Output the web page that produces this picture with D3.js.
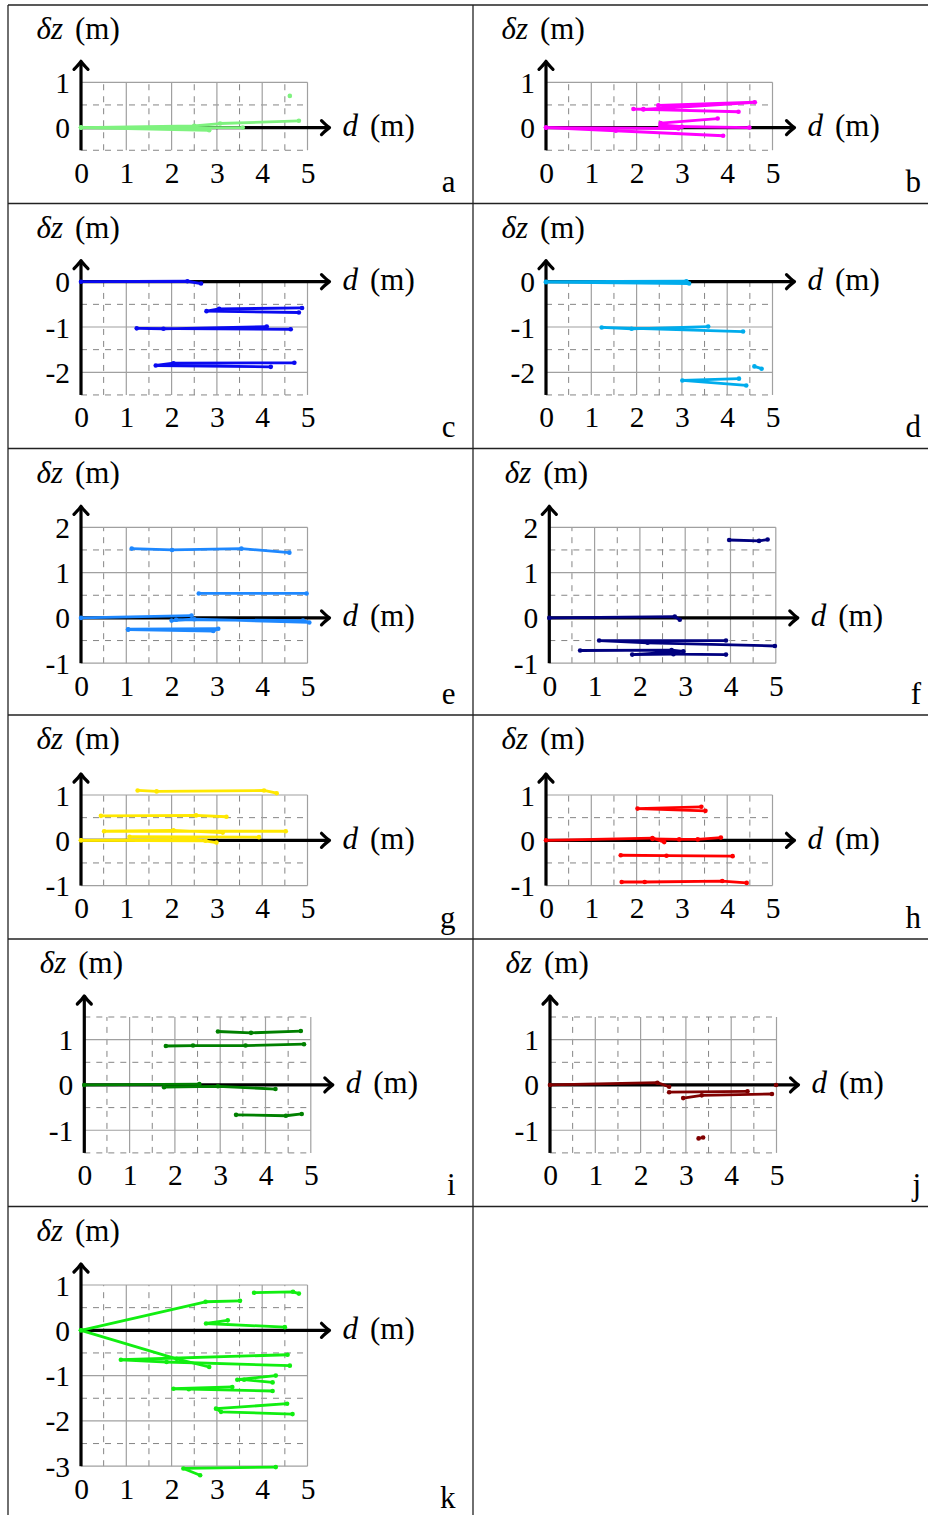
<!DOCTYPE html>
<html><head><meta charset="utf-8">
<script src="https://cdn.jsdelivr.net/npm/d3@7"></script>
<style>
body{margin:0;background:#fff}
svg{display:block}
</style>
</head><body>
<svg id="chart" width="928" height="1515"></svg>
<script>
// ---------- data ----------
const panelLetters = ["a","b","c","d","e","f","g","h","i","j","k"];
const xTicks = [0,1,2,3,4,5];
const xDomain = [0,5];
const yDomains = [[-0.5,1],[-0.5,1],[-2.5,0],[-2.5,0],[-1,2],[-1,2],[-1,1],[-1,1],[-1.5,1.5],[-1.5,1.5],[-3,1]];
const yTickLabels = [[0,1],[0,1],[-2,-1,0],[-2,-1,0],[-1,0,1,2],[-1,0,1,2],[-1,0,1],[-1,0,1],[-1,0,1],[-1,0,1],[-3,-2,-1,0,1]];
const xAxisLabel = "d";
const yAxisLabel = "δz";
const unitLabel = "(m)";

// each panel: list of polylines, each a list of [d, dz] points
const tracksA = [
  [[0,0],[2.83,-0.06]],
  [[0,0],[3.57,0.0]],
  [[0,0],[2.5,0.04],[3.07,0.09],[4.81,0.15]],
  [[4.61,0.70]]
];
const tracksB = [
  [[0,0],[2.92,-0.02]],
  [[0,0],[1.54,-0.07],[3.91,-0.18]],
  [[2.53,0.03],[4.49,0.0]],
  [[2.53,0.10],[3.79,0.20]],
  [[2.53,0.06],[3.0,0.02]],
  [[4.25,0.35],[1.93,0.41],[2.15,0.41]],
  [[2.15,0.40],[4.61,0.56],[2.48,0.49]]
];
const tracksC = [
  [[0,0],[2.35,0.01],[2.65,-0.04]],
  [[4.81,-0.68],[2.77,-0.65],[3.05,-0.60],[4.88,-0.58]],
  [[4.63,-1.05],[1.23,-1.03],[1.82,-1.04],[4.10,-0.99]],
  [[4.19,-1.88],[1.65,-1.85],[2.04,-1.80],[4.71,-1.79]]
];
const tracksD = [
  [[0,0],[3.10,0.01],[3.16,-0.04],[0,-0.01]],
  [[4.35,-1.10],[1.23,-1.01],[1.89,-1.04],[3.58,-0.99]],
  [[4.60,-1.87],[4.76,-1.92]],
  [[4.26,-2.14],[3.01,-2.18],[4.42,-2.29]]
];
const tracksE = [
  [[0,0],[2.44,0.05]],
  [[2.0,-0.06],[2.5,-0.03],[5.04,-0.10],[4.9,-0.06],[2.1,-0.04]],
  [[2.60,0.54],[4.98,0.54]],
  [[1.12,1.53],[2.01,1.50],[3.54,1.53],[4.60,1.44]],
  [[1.04,-0.26],[2.92,-0.29],[3.03,-0.24],[1.04,-0.25]]
];
const tracksF = [
  [[0,0],[2.77,0.03],[2.88,-0.04]],
  [[3.97,1.72],[4.63,1.70],[4.82,1.73]],
  [[3.90,-0.50],[1.10,-0.50],[2.17,-0.55],[4.98,-0.62]],
  [[0.68,-0.72],[2.70,-0.71],[2.96,-0.74],[1.83,-0.81],[2.74,-0.80],[3.90,-0.81]]
];
const tracksG = [
  [[0,0],[2.5,0.02],[2.99,-0.05]],
  [[0,0],[2.75,-0.01]],
  [[1.07,0.08],[3.93,0.07]],
  [[4.52,0.20],[0.51,0.20],[2.04,0.22],[3.13,0.17]],
  [[0.44,0.54],[2.54,0.55],[3.21,0.52]],
  [[1.25,1.10],[1.67,1.08],[4.04,1.10],[4.32,1.04]]
];
const tracksH = [
  [[0,0],[2.35,0.05],[2.61,-0.04]],
  [[2.35,0.03],[2.94,0.02],[3.35,0.02],[3.86,0.06]],
  [[1.65,-0.33],[2.66,-0.34],[4.12,-0.35]],
  [[1.67,-0.92],[2.18,-0.92],[3.89,-0.90],[4.43,-0.94]],
  [[3.52,0.65],[2.02,0.70],[3.43,0.74]]
];
const tracksI = [
  [[0,0],[2.54,0.02]],
  [[1.76,-0.05],[2.95,-0.03],[4.22,-0.09]],
  [[2.95,1.18],[3.68,1.15],[4.78,1.19]],
  [[1.80,0.86],[2.40,0.87],[3.56,0.87],[4.85,0.90]],
  [[3.35,-0.66],[4.45,-0.68],[4.80,-0.64]]
];
const tracksJ = [
  [[0,0],[2.37,0.05],[2.63,-0.04]],
  [[4.99,0.0]],
  [[2.63,-0.16],[4.36,-0.14]],
  [[2.94,-0.29],[3.35,-0.23],[4.90,-0.20]],
  [[3.28,-1.18],[3.38,-1.16]]
];
const tracksK = [
  [[0,0],[2.75,0.63],[3.51,0.65]],
  [[3.82,0.83],[4.68,0.85],[4.81,0.81]],
  [[3.24,0.22],[2.76,0.15],[4.50,0.07]],
  [[0,0],[2.11,-0.63],[2.83,-0.81]],
  [[4.56,-0.54],[0.88,-0.65],[1.89,-0.70],[4.61,-0.78]],
  [[4.30,-1.0],[3.45,-1.09],[3.60,-1.09],[4.23,-1.15]],
  [[3.34,-1.25],[2.04,-1.29],[2.38,-1.30],[4.23,-1.34]],
  [[4.55,-1.62],[2.98,-1.73],[3.09,-1.80],[4.67,-1.85]],
  [[4.30,-3.02],[2.26,-3.05],[2.63,-3.20]]
];
const panelTracks = [tracksA,tracksB,tracksC,tracksD,tracksE,tracksF,tracksG,tracksH,tracksI,tracksJ,tracksK];

// ---------- styles / layout ----------
const panelColors = ["#7ff27f","#ff00ff","#0a0af0","#00acec","#1e88ff","#00007f","#ffe800","#ff0000","#008000","#800000","#11ee11"];
const rowTops = [5,203.5,448.5,715,939,1206.5,1519.5];
const gridTopOff = [77.3,78.2,78.8,80,78,78.5];
const colLeft = [8,473];
const colRight = [473,938];
const originDx = [73,73,73,73,73,76.3,73,73,76.3,77,73];
const PX = 45.3;
const FS = 29.5;
const FS_TITLE = 31;
const FONT = '"Liberation Serif"';

const svg = d3.select("#chart");

// table borders
const border = svg.append("g").attr("stroke","#222").attr("stroke-width",1.3).attr("fill","none");
for (let r=0;r<6;r++) border.append("line").attr("x1",8).attr("x2",928).attr("y1",rowTops[r]).attr("y2",rowTops[r]);
border.append("line").attr("x1",8).attr("x2",8).attr("y1",rowTops[0]).attr("y2",1515);
border.append("line").attr("x1",473).attr("x2",473).attr("y1",rowTops[0]).attr("y2",1515);

const fmt = d => d < 0 ? "-" + (-d) : String(d);
const styleText = (sel, fs) => sel.style("font-family",FONT).style("font-size",(fs||FS)+"px").style("fill","#000");

panelLetters.forEach((letter,i)=>{
  const row = Math.floor(i/2), col = i%2;
  const [yMin,yMax] = yDomains[i];
  const ox = colLeft[col] + originDx[i];
  const gTop = rowTops[row] + gridTopOff[row];
  const gBot = gTop + (yMax-yMin)*PX;
  const x = d3.scaleLinear().domain(xDomain).range([ox, ox+5*PX]);
  const y = d3.scaleLinear().domain([yMin,yMax]).range([gBot, gTop]);
  const g = svg.append("g");
  const color = panelColors[i];

  // grid: dashed at halves, solid at integers
  const halfX = d3.range(0, 5.001, 0.5);
  const halfY = d3.range(Math.ceil(yMin*2)/2, yMax+0.001, 0.5);
  const grid = g.append("g");
  const isInt = v => Math.abs(v-Math.round(v))<0.01;
  halfX.filter(v=>!isInt(v)).forEach(v=>{
    grid.append("line").attr("x1",x(v)).attr("x2",x(v)).attr("y1",gBot).attr("y2",gTop)
      .attr("stroke","#858585").attr("stroke-width",1).attr("stroke-dasharray","6,6");
  });
  halfY.filter(v=>!isInt(v)).forEach(v=>{
    grid.append("line").attr("x1",x(0)).attr("x2",x(5)).attr("y1",y(v)).attr("y2",y(v))
      .attr("stroke","#858585").attr("stroke-width",1).attr("stroke-dasharray","6,6");
  });
  halfX.filter(isInt).forEach(v=>{
    grid.append("line").attr("x1",x(v)).attr("x2",x(v)).attr("y1",gBot).attr("y2",gTop)
      .attr("stroke","#a0a0a0").attr("stroke-width",1.2);
  });
  halfY.filter(isInt).forEach(v=>{
    grid.append("line").attr("x1",x(0)).attr("x2",x(5)).attr("y1",y(v)).attr("y2",y(v))
      .attr("stroke","#a0a0a0").attr("stroke-width",1.2);
  });

  // axes (black arrows)
  const ax = g.append("g").attr("stroke","#000").attr("stroke-width",3.2).attr("fill","none")
    .attr("stroke-linecap","butt").attr("stroke-linejoin","round");
  const xTip = x(5)+22, yTip = gTop-21;
  ax.append("line").attr("x1",x(0)-1.6).attr("x2",xTip-1).attr("y1",y(0)).attr("y2",y(0));
  ax.append("line").attr("x1",x(0)).attr("x2",x(0)).attr("y1",gBot).attr("y2",yTip+1);
  ax.append("path").attr("stroke-linecap","round")
    .attr("d",`M${xTip-8},${y(0)-7} Q${xTip-3},${y(0)-2} ${xTip},${y(0)} Q${xTip-3},${y(0)+2} ${xTip-8},${y(0)+7}`);
  ax.append("path").attr("stroke-linecap","round")
    .attr("d",`M${x(0)-7},${yTip+8} Q${x(0)-2},${yTip+3} ${x(0)},${yTip} Q${x(0)+2},${yTip+3} ${x(0)+7},${yTip+8}`);

  // tick labels via d3 axes
  const xa = g.append("g").attr("transform",`translate(0,${gBot})`)
    .call(d3.axisBottom(x).tickValues(xTicks).tickSize(0).tickPadding(11.5).tickFormat(fmt));
  xa.select(".domain").remove();
  styleText(xa.selectAll("text"));
  const ya = g.append("g").attr("transform",`translate(${x(0)},0)`)
    .call(d3.axisLeft(y).tickValues(yTickLabels[i]).tickSize(0).tickPadding(11).tickFormat(fmt));
  ya.select(".domain").remove();
  styleText(ya.selectAll("text")).attr("dy","0.34em");

  // axis titles
  const yt = styleText(g.append("text").attr("x",ox-44.5).attr("y",rowTops[row]+34.3), FS_TITLE);
  yt.append("tspan").style("font-style","italic").text(yAxisLabel);
  yt.append("tspan").attr("dx",12).text(unitLabel);
  const xt = styleText(g.append("text").attr("x",xTip+13).attr("y",y(0)+8.5), FS_TITLE);
  xt.append("tspan").style("font-style","italic").text(xAxisLabel);
  xt.append("tspan").attr("dx",12).text(unitLabel);

  // panel letter
  styleText(g.append("text").attr("x",colRight[col]-(col===0?17.5:17)).attr("y",rowTops[row+1]-11.5)
    .attr("text-anchor","end"), FS_TITLE).text(letter);

  // data
  const line = d3.line().x(p=>x(p[0])).y(p=>y(p[1]));
  const dg = g.append("g");
  panelTracks[i].forEach(tr=>{
    if (tr.length>1) dg.append("path").attr("d",line(tr)).attr("fill","none").attr("stroke",color)
      .attr("stroke-width",2.8).attr("stroke-linecap","round").attr("stroke-linejoin","round");
    tr.forEach(p=>dg.append("circle").attr("cx",x(p[0])).attr("cy",y(p[1])).attr("r",2.3).attr("fill",color));
  });
});
</script>
</body></html>
